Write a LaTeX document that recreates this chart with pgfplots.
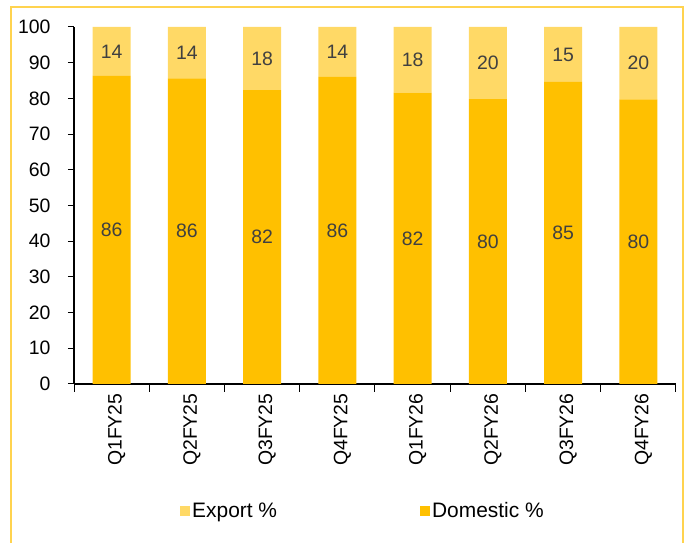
\documentclass[border=0pt]{standalone}
\usepackage{pgfplots}
\pgfplotsset{compat=1.18}
\usepackage{pgfplotstable}
\usepackage{fontspec}
\setmainfont{Liberation Sans}
\definecolor{dom}{HTML}{FFC000}
\definecolor{expo}{HTML}{FFD966}
\definecolor{lbl}{HTML}{404040}
\definecolor{frm}{HTML}{FFD34F}
\pgfplotstableread{
x dom exp dl el
0 86.3 13.7 86 14
1 85.6 14.4 86 14
2 82.3 17.7 82 18
3 86.0 14.0 86 14
4 81.6 18.4 82 18
5 79.8 20.2 80 20
6 84.6 15.4 85 15
7 79.7 20.3 80 20
}\data
\begin{document}
\begin{tikzpicture}
\path[use as bounding box] (0bp,0bp) rectangle (694bp,543bp);
\draw[frm, line width=1.2bp] (11bp,-5bp) -- (11bp,536bp) -- (683bp,536bp) -- (683bp,-5bp);
\begin{axis}[
  at={(74bp,159bp)}, anchor=south west,
  scale only axis, width=602bp, height=357bp,
  ybar stacked, bar width=0.505,
  xmin=-0.5, xmax=7.5, ymin=0, ymax=100,
  ytick={0,10,...,100},
  xtick={0,...,7},
  xticklabels={Q1FY25,Q2FY25,Q3FY25,Q4FY25,Q1FY26,Q2FY26,Q3FY26,Q4FY26},
  minor xtick={-0.5,0.5,...,7.5},
  axis lines*=left,
  axis line style={-, black, line width=1.3bp},
  tick align=outside,
  major tick length=6bp, minor tick length=8bp,
  tick style={black, line width=1bp},
  major x tick style={draw=none},
  /pgf/number format/assume math mode=true,
  ticklabel style={font=\fontsize{19.5}{22}\selectfont},
  yticklabel style={xshift=-14bp},
  xticklabel style={rotate=90, anchor=east, yshift=-5bp},
  reverse legend,
  legend style={draw=none, legend columns=2, at={(0.48,-0.356)}, anchor=center,
    font=\fontsize{21}{24}\selectfont, inner sep=0pt,
    /tikz/every even column/.append style={column sep=141bp},
    nodes={inner sep=2bp}},
  legend cell align=left,
  legend image code/.code={\fill[#1] (0bp,-5bp) rectangle (10bp,5bp);},
  nodes near coords style={font=\fontsize{19.5}{22}\selectfont, text=lbl},
]
\addplot[fill=dom, draw=none, point meta=explicit symbolic, nodes near coords,
  every node near coord/.append style={anchor=center}]
  table[x=x, y=dom, meta=dl]{\data};
\addlegendentry{Domestic \%}
\addplot[fill=expo, draw=none, point meta=explicit symbolic, nodes near coords,
  every node near coord/.append style={anchor=center}]
  table[x=x, y=exp, meta=el]{\data};
\addlegendentry{Export \%}
\end{axis}
\end{tikzpicture}
\end{document}
